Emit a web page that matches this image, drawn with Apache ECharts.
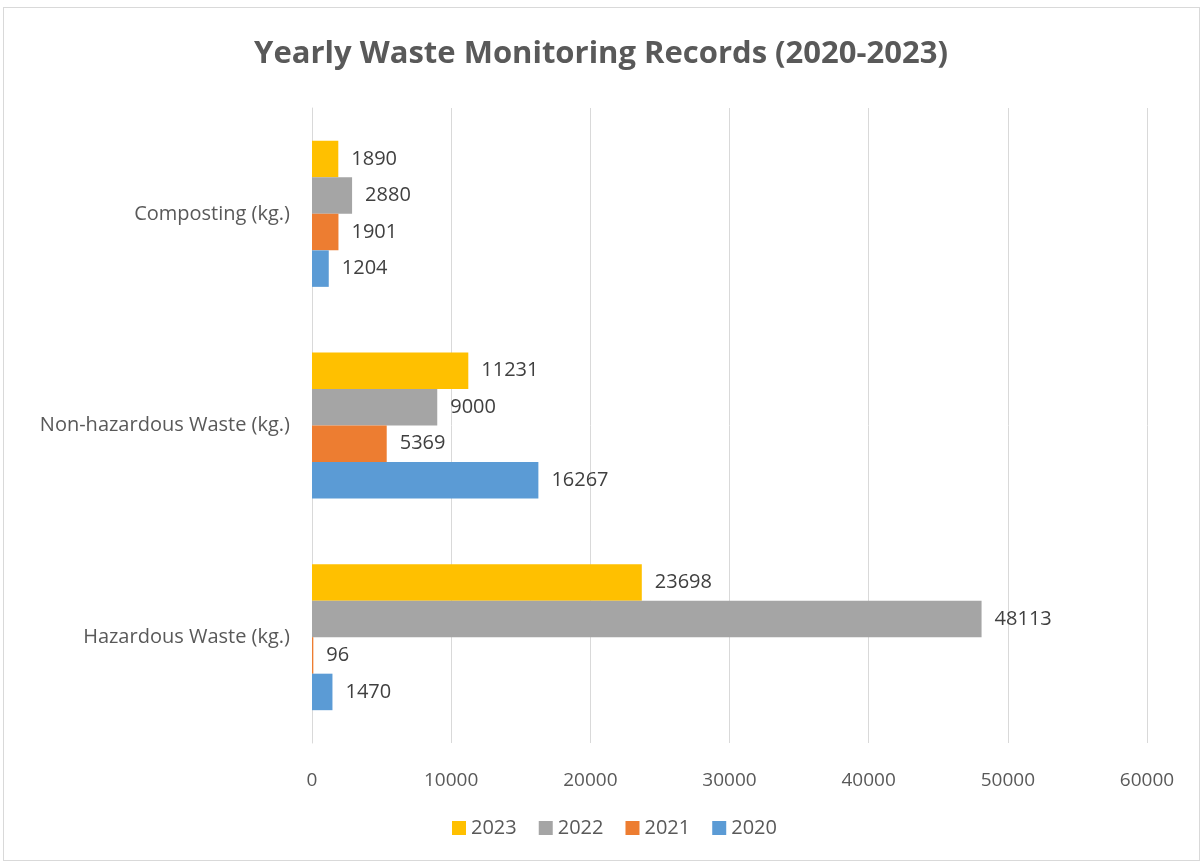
<!DOCTYPE html>
<html>
<head>
<meta charset="utf-8">
<script src="https://cdn.jsdelivr.net/npm/echarts@6/dist/echarts.min.js"></script>
<style>
  html, body { margin: 0; padding: 0; background: #fff; }
  #frame { position: absolute; left: 3px; top: 7px; width: 1197px; height: 854px; border: 1px solid #d9d9d9; box-sizing: border-box; }
  #chart { position: absolute; left: 0; top: 0; width: 1202px; height: 863px; }
</style>
</head>
<body>
<div id="frame"></div>
<div id="chart"></div>
<script>
// categories, bottom to top
const categories = ['Hazardous Waste (kg.)', 'Non-hazardous Waste (kg.)', 'Composting (kg.)'];
const years = ['2023', '2022', '2021', '2020'];
const values2023 = [23698, 11231, 1890];
const values2022 = [48113, 9000, 2880];
const values2021 = [96, 5369, 1901];
const values2020 = [1470, 16267, 1204];
const colors = ['#ffc000', '#a5a5a5', '#ed7d31', '#5b9bd5'];

const chart = echarts.init(document.getElementById('chart'));
const fontFamily = '"Open Sans", "Noto Sans", sans-serif';

function makeSeries(name, data, color) {
  return {
    name: name,
    type: 'bar',
    data: data,
    barGap: '0%',
    barCategoryGap: '31%',
    itemStyle: { color: color },
    label: {
      show: true,
      position: 'right',
      distance: 13,
      color: '#404040',
      fontSize: 20,
      fontFamily: fontFamily
    }
  };
}

// first series sits on top of each group, so 2023 goes first
chart.setOption({
  animation: false,
  title: {
    text: 'Yearly Waste Monitoring Records (2020-2023)',
    left: 'center',
    top: 34,
    textStyle: { color: '#595959', fontSize: 31, fontWeight: 'bold', fontFamily: fontFamily }
  },
  legend: {
    data: years,
    bottom: 20,
    left: 447,
    itemWidth: 14,
    itemHeight: 14,
    itemGap: 22,
    itemStyle: { borderWidth: 0 },
    icon: 'rect',
    textStyle: { color: '#595959', fontSize: 20, fontFamily: fontFamily }
  },
  grid: { left: 312, right: 55, top: 108, bottom: 120 },
  xAxis: {
    type: 'value',
    min: 0,
    max: 60000,
    interval: 10000,
    axisLine: { show: false },
    axisTick: { show: false },
    splitLine: { lineStyle: { color: '#d9d9d9', width: 1 } },
    axisLabel: {
      color: '#595959',
      fontSize: 19,
      margin: 28,
      fontFamily: fontFamily,
      formatter: function (v) { return String(v); }
    }
  },
  yAxis: {
    type: 'category',
    data: categories,
    axisLine: { show: true, lineStyle: { color: '#d9d9d9' } },
    axisTick: { show: false },
    axisLabel: { color: '#595959', fontSize: 20, margin: 22, fontFamily: fontFamily }
  },
  series: [
    makeSeries(years[0], values2023, colors[0]),
    makeSeries(years[1], values2022, colors[1]),
    makeSeries(years[2], values2021, colors[2]),
    makeSeries(years[3], values2020, colors[3])
  ]
});
</script>
</body>
</html>
